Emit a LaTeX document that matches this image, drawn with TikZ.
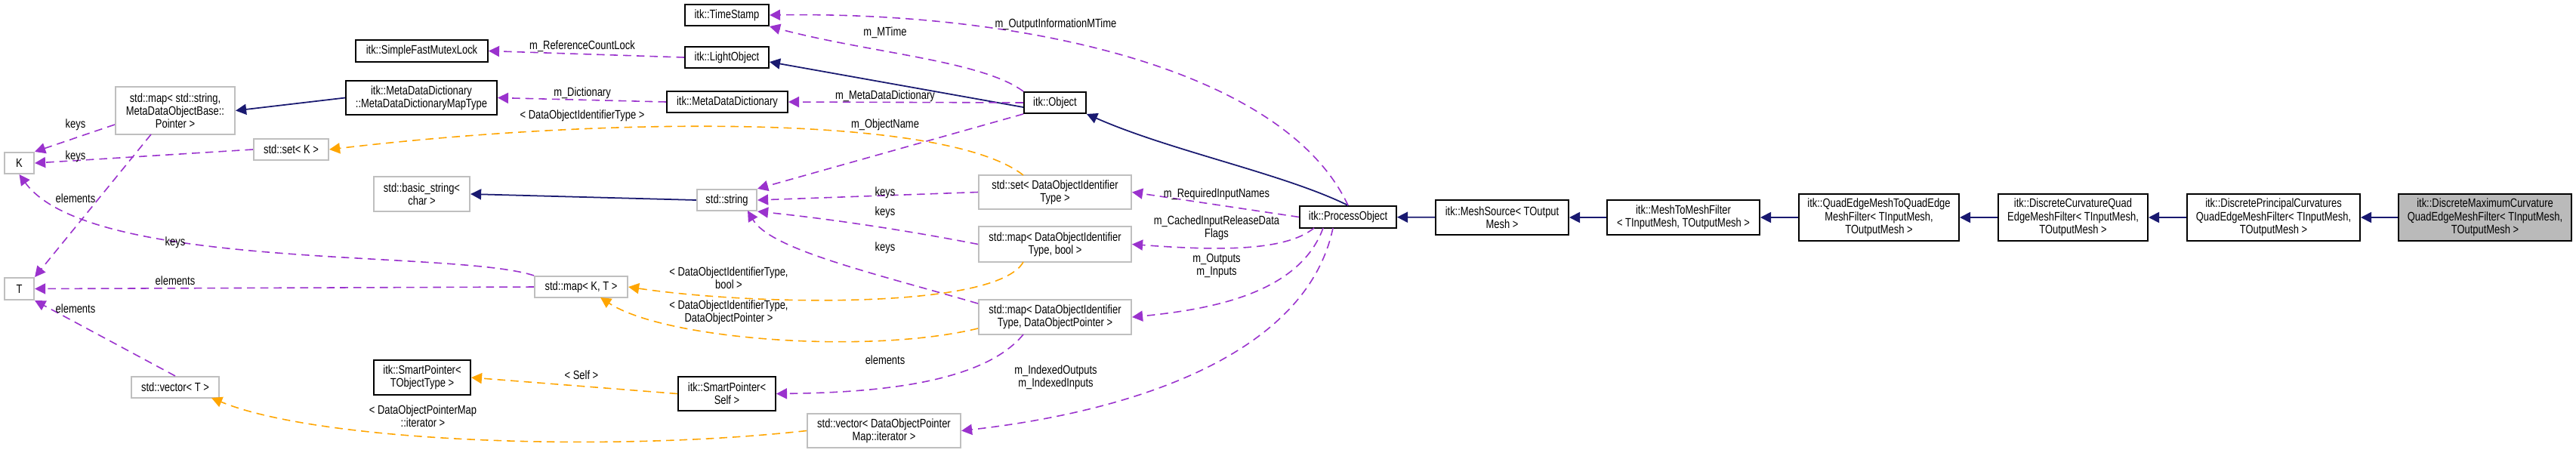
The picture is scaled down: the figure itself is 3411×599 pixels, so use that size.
\documentclass[tikz,border=0pt]{standalone}
\usepackage{fontspec}
\setmainfont{Liberation Sans}[FakeStretch=0.8]
\usetikzlibrary{arrows.meta}
\definecolor{inh}{HTML}{191970}
\definecolor{use}{HTML}{9A32CD}
\definecolor{tpl}{HTML}{FFA500}
\tikzset{
  every node/.style={font=\fontsize{4.6}{4.9}\selectfont, inner sep=0pt, align=center},
  bk/.style={draw=black, line width=0.55pt},
  gr/.style={draw=black!25, line width=0.6pt},
  hl/.style={draw=black, line width=0.55pt, fill=black!27},
  inhe/.style={draw=inh, line width=0.5pt, -{Triangle[length=4pt,width=4pt]}},
  usee/.style={draw=use, line width=0.45pt, dashed, dash pattern=on 3pt off 2pt, -{Triangle[length=4pt,width=4pt]}},
  tple/.style={draw=tpl, line width=0.45pt, dashed, dash pattern=on 3pt off 2pt, -{Triangle[length=4pt,width=4pt]}},
  lb/.style={fill=none}
}
\newcommand\bx[7]{\node[#1, minimum width={(#4-#2)*0.01cm}, minimum height={(#5-#3)*0.01cm}] (#6) at ({(#2+#4)/2},{(#3+#5)/2}) {#7};}
\begin{document}
\begin{tikzpicture}[x=0.01cm,y=-0.01cm]
\useasboundingbox (0,0) rectangle (3411,599);
% nodes
\bx{bk}{907}{6}{1018}{34}{ts}{itk::TimeStamp}
\bx{bk}{471}{53}{646}{82}{mutex}{itk::SimpleFastMutexLock}
\bx{bk}{907}{62}{1018}{90}{light}{itk::LightObject}
\bx{bk}{458}{107}{658}{152}{mdmt}{itk::MetaDataDictionary\\::MetaDataDictionaryMapType}
\bx{bk}{883}{121}{1043}{149}{mdd}{itk::MetaDataDictionary}
\bx{bk}{1356}{122}{1438}{150}{obj}{itk::Object}
\bx{gr}{153}{115}{311}{178}{mapstr}{std::map< std::string,\\ MetaDataObjectBase::\\Pointer >}
\bx{gr}{6}{202}{45}{230}{K}{K}
\bx{gr}{336}{184}{435}{212}{setK}{std::set< K >}
\bx{gr}{495}{234}{622}{280}{bstr}{std::basic\_string<\\ char >}
\bx{gr}{923}{251}{1002}{279}{str}{std::string}
\bx{gr}{1296}{232}{1498}{277}{setD}{std::set< DataObjectIdentifier\\Type >}
\bx{bk}{1721}{273}{1849}{302}{po}{itk::ProcessObject}
\bx{gr}{1296}{300}{1498}{347}{mapDb}{std::map< DataObjectIdentifier\\Type, bool >}
\bx{gr}{6}{368}{45}{397}{T}{T}
\bx{gr}{708}{366}{831}{394}{mapKT}{std::map< K, T >}
\bx{gr}{1296}{397}{1498}{443}{mapDP}{std::map< DataObjectIdentifier\\Type, DataObjectPointer >}
\bx{bk}{495}{477}{623}{523}{spT}{itk::SmartPointer<\\ TObjectType >}
\bx{bk}{898}{499}{1027}{544}{spS}{itk::SmartPointer<\\ Self >}
\bx{gr}{174}{499}{290}{527}{vecT}{std::vector< T >}
\bx{gr}{1069}{548}{1272}{593}{vecD}{std::vector< DataObjectPointer\\Map::iterator >}
\bx{bk}{1901}{265}{2077}{311}{ms}{itk::MeshSource< TOutput\\ Mesh >}
\bx{bk}{2128}{265}{2330}{311}{mtm}{itk::MeshToMeshFilter\\< TInputMesh, TOutputMesh >}
\bx{bk}{2382}{257}{2594}{319}{qe}{itk::QuadEdgeMeshToQuadEdge\\MeshFilter< TInputMesh,\\ TOutputMesh >}
\bx{bk}{2646}{257}{2844}{319}{dc}{itk::DiscreteCurvatureQuad\\EdgeMeshFilter< TInputMesh,\\ TOutputMesh >}
\bx{bk}{2896}{257}{3125}{319}{dp}{itk::DiscretePrincipalCurvatures\\QuadEdgeMeshFilter< TInputMesh,\\ TOutputMesh >}
\bx{hl}{3176}{257}{3405}{319}{dm}{itk::DiscreteMaximumCurvature\\QuadEdgeMeshFilter< TInputMesh,\\ TOutputMesh >}
% inheritance
\draw[inhe] (dm) -- (dp);
\draw[inhe] (dp) -- (dc);
\draw[inhe] (dc) -- (qe);
\draw[inhe] (qe) -- (mtm);
\draw[inhe] (mtm) -- (ms);
\draw[inhe] (ms) -- (po);
\draw[inhe] (po.north) .. controls (1700,230) and (1550,200) .. (obj.south east);
\draw[inhe] (obj.west |- 0,142) -- (light.east |- 0,82);
\draw[inhe] (mdmt.west) -- (mapstr.east);
\draw[inhe] (str.west) -- (bstr.east);
% usage
\draw[usee] (obj.north west) .. controls (1300,80) and (1150,70) .. (ts.south east);
\path (1172,43) node {m\_MTime};
\draw[usee] (po.north) .. controls (1700,90) and (1350,15) .. (ts.east);
\path (1398,32) node {m\_OutputInformationMTime};
\draw[usee] (light.west) -- (mutex.east);
\path (771,61) node {m\_ReferenceCountLock};
\draw[usee] (obj.west) -- (mdd.east);
\path (1172,127) node {m\_MetaDataDictionary};
\draw[usee] (mdd.west) -- (mdmt.east);
\path (771,123) node {m\_Dictionary};
\draw[usee] (mapstr.west |- 0,165) -- (K.north east);
\path (100,165) node {keys};
\draw[usee] (200,178) -- (T.north east);
\path (100,263) node {elements};
\draw[usee] (setK.west) -- (K.east);
\path (100,207) node {keys};
\draw[usee] (obj.south west) -- (str.north east);
\path (1172,165) node {m\_ObjectName};
\draw[usee] (setD.west) -- (str.east);
\path (1172,255) node {keys};
\draw[usee] (mapDb.west) .. controls (1200,305) and (1100,290) .. (str.south east);
\path (1172,281) node {keys};
\draw[usee] (mapDP.west |- 0,402) .. controls (1150,360) and (1020,330) .. (990,279);
\path (1172,328) node {keys};
\draw[usee] (mapKT.north west) .. controls (600,330) and (120,360) .. (K.south);
\path (232,321) node {keys};
\draw[usee] (mapKT.west) -- (T.east);
\path (232,372) node {elements};
\draw[usee] (vecT.north) -- (T.south east);
\path (100,409) node {elements};
\draw[usee] (1355,443) .. controls (1300,510) and (1150,520) .. (spS.east);
\path (1172,477) node {elements};
\draw[usee] (po.west) -- (setD.east);
\path (1611,257) node {m\_RequiredInputNames};
\draw[usee] (1740,302) .. controls (1700,335) and (1600,331) .. (mapDb.east);
\path (1611,302) node {m\_CachedInputReleaseData\\Flags};
\draw[usee] (1752,302) .. controls (1720,390) and (1600,410) .. (mapDP.east);
\path (1611,352) node {m\_Outputs\\m\_Inputs};
\draw[usee] (1765,302) .. controls (1730,470) and (1500,545) .. (vecD.east);
\path (1398,500) node {m\_IndexedOutputs\\m\_IndexedInputs};
% template
\draw[tple] (1355,232) .. controls (1250,150) and (800,155) .. (setK.east);
\path (771,153) node {< DataObjectIdentifierType >};
\draw[tple] (1355,347) .. controls (1320,410) and (1000,405) .. (mapKT.east);
\path (965,368) node {< DataObjectIdentifierType,\\ bool >};
\draw[tple] (mapDP.west |- 0,435) .. controls (1150,470) and (880,450) .. (795,394);
\path (965,414) node {< DataObjectIdentifierType,\\ DataObjectPointer >};
\draw[tple] (spS.west) -- (spT.east);
\path (770,497) node {< Self >};
\draw[tple] (vecD.west) .. controls (800,600) and (420,585) .. (280,527);
\path (560,551) node {< DataObjectPointerMap\\ ::iterator >};
\end{tikzpicture}
\end{document}
